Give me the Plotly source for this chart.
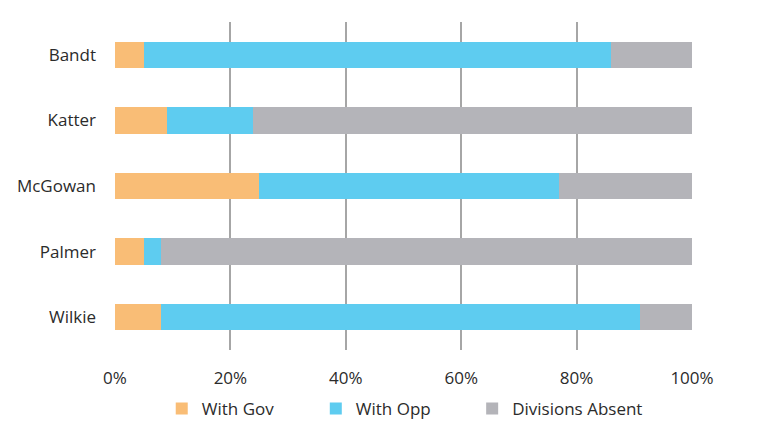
import plotly.graph_objects as go

members = ["Bandt", "Katter", "McGowan", "Palmer", "Wilkie"]
with_gov = [5, 9, 25, 5, 8]
with_opp = [81, 15, 52, 3, 83]
absent = [14, 76, 23, 92, 9]

series = [
    ("With Gov", with_gov, "#F9BD76", "legend", 0.081),
    ("With Opp", with_opp, "#5ECCF0", "legend2", 0.348),
    ("Divisions Absent", absent, "#B4B4B9", "legend3", 0.619),
]

fig = go.Figure()
for name, vals, color, leg, _ in series:
    fig.add_trace(go.Bar(
        y=members, x=vals, name=name, orientation="h",
        marker=dict(color=color, line=dict(width=0)),
        legend=leg, showlegend=True,
    ))

legend_layout = {}
for name, vals, color, leg, lx in series:
    legend_layout[leg] = dict(
        orientation="h", x=lx, xanchor="left", y=-0.125, yanchor="top",
        font=dict(size=17), itemwidth=30, bgcolor="rgba(0,0,0,0)",
    )

fig.update_layout(
    showlegend=True,
    barmode="stack",
    bargap=0.6,
    width=760, height=435,
    margin=dict(l=107, r=76, t=14, b=93),
    paper_bgcolor="white", plot_bgcolor="white",
    font=dict(family="Open Sans, Noto Sans, sans-serif", size=17, color="#2b2b2b"),
    xaxis=dict(
        range=[0, 100], tickvals=[0, 20, 40, 60, 80, 100],
        ticktext=["0%", "20%", "40%", "60%", "80%", "100%"],
        showgrid=True, gridcolor="#A6A6A6", gridwidth=1.5,
        zeroline=False, showline=False, ticks="", ticklen=0,
        ticklabelstandoff=16, automargin=False,
    ),
    yaxis=dict(
        autorange="reversed", showgrid=False, zeroline=False,
        showline=False, ticks="", ticklabelstandoff=18, automargin=False,
    ),
    **legend_layout,
)

fig.write_html("out.html")
